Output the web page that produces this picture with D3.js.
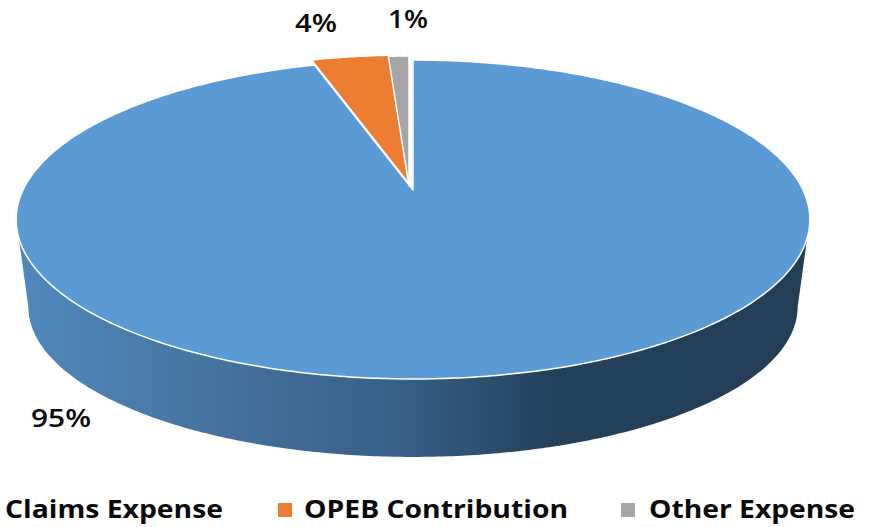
<!DOCTYPE html>
<html>
<head>
<meta charset="utf-8">
<script src="https://cdn.jsdelivr.net/npm/d3@7/dist/d3.min.js"></script>
<style>
  html, body { margin: 0; padding: 0; background: #fff; overflow: hidden; }
  text { font-family: "Open Sans", sans-serif; font-weight: 700; fill: #0a0a0a; }
</style>
</head>
<body>
<svg id="chart" width="869" height="527"></svg>
<script>
const categories = ['Claims Expense', 'OPEB Contribution', 'Other Expense'];
const shares = [95.2, 3.8, 1.0];
const colors = ['#5b9bd5', '#ed7d31', '#a5a5a5'];

const TILT = -0.185; // perspective, the far edge is squeezed and the hub sits above the ellipse middle
const TOP = { cx: 413, cy: 190, rx: 390, ry: 154 };
const FLOOR = { cx: 413, cy: 279, rx: 378, ry: 145 };
const EXPLODE = [{ dx: 0, dy: 0 }, { dx: -3, dy: -5 }, { dx: -4, dy: -4 }];

// Label and legend spots, same order as categories
const LABEL_SPOTS = [
  { x: 31, y: 427, width: 60 },
  { x: 295, y: 32, width: 42 },
  { x: 388, y: 28, width: 40 },
];
const LEGEND_SPOTS = [
  { key: -22, text: 5, width: 218 },
  { key: 278, text: 304, width: 264 },
  { key: 621, text: 649, width: 206 },
];
const LEGEND_BASELINE = 518;

const svg = d3.select('#chart');

const wallGradient = svg.append('defs').append('linearGradient')
  .attr('id', 'wall')
  .attr('gradientUnits', 'userSpaceOnUse')
  .attr('x1', 17).attr('x2', 807)
  .attr('y1', 0).attr('y2', 0);
[
  [0, '#5088bd'],
  [0.25, '#47739f'],
  [0.5, '#375d84'],
  [0.68, '#24405a'],
  [1, '#233e55'],
].forEach(([offset, color]) => {
  wallGradient.append('stop').attr('offset', offset).attr('stop-color', color);
});

const degrees = d3.scaleLinear().domain([0, 360]).range([0, 2 * Math.PI]);

// Angle is clockwise from 12 o'clock, like d3.pie
function project(angle, ring) {
  const u = Math.sin(angle);
  const v = -Math.cos(angle);
  const w = 1 + TILT * v;
  return [ring.cx + ring.rx * u / w, ring.cy + ring.ry * v / w];
}

function sweep(from, to, ring) {
  const steps = Math.max(2, Math.ceil(Math.abs(to - from) / 0.01));
  return d3.range(steps + 1).map(i => project(from + (to - from) * i / steps, ring));
}

const line = d3.line();

// Side wall first, the top face goes over it
const wallTop = sweep(degrees(107), degrees(253), TOP);
const wallFloor = sweep(degrees(259.3), degrees(100.7), FLOOR);

svg.append('path')
  .attr('d', `${line(wallTop.concat(wallFloor))}Z`)
  .attr('fill', 'url(#wall)');

// The big slice starts at 12 o'clock and runs clockwise, so it wraps round to the small ones
const slices = d3.pie().sort(null).value(d => d)(shares);

svg.selectAll('.slice')
  .data(slices)
  .enter()
  .append('path')
  .attr('class', 'slice')
  .attr('d', d => {
    const hub = [TOP.cx, TOP.cy];
    return `${line([hub].concat(sweep(d.startAngle, d.endAngle, TOP)))}Z`;
  })
  .attr('transform', (d, i) => `translate(${EXPLODE[i].dx},${EXPLODE[i].dy})`)
  .attr('fill', (d, i) => colors[i])
  .attr('stroke', '#fff')
  .attr('stroke-width', 1.5)
  .attr('stroke-linejoin', 'round');

svg.selectAll('.pct')
  .data(slices)
  .enter()
  .append('text')
  .attr('class', 'pct')
  .attr('x', (d, i) => LABEL_SPOTS[i].x)
  .attr('y', (d, i) => LABEL_SPOTS[i].y)
  .attr('textLength', (d, i) => LABEL_SPOTS[i].width)
  .attr('lengthAdjust', 'spacingAndGlyphs')
  .style('font-size', '26px')
  .style('font-weight', 600)
  .text(d => `${Math.round(d.data)}%`);

const legend = svg.selectAll('.legend')
  .data(categories)
  .enter()
  .append('g')
  .attr('class', 'legend');

legend.append('rect')
  .attr('x', (d, i) => LEGEND_SPOTS[i].key)
  .attr('y', 503)
  .attr('width', 14)
  .attr('height', 14)
  .attr('fill', (d, i) => colors[i]);

legend.append('text')
  .attr('x', (d, i) => LEGEND_SPOTS[i].text)
  .attr('y', LEGEND_BASELINE)
  .attr('textLength', (d, i) => LEGEND_SPOTS[i].width)
  .attr('lengthAdjust', 'spacingAndGlyphs')
  .style('font-size', '25px')
  .text(d => d);
</script>
</body>
</html>
